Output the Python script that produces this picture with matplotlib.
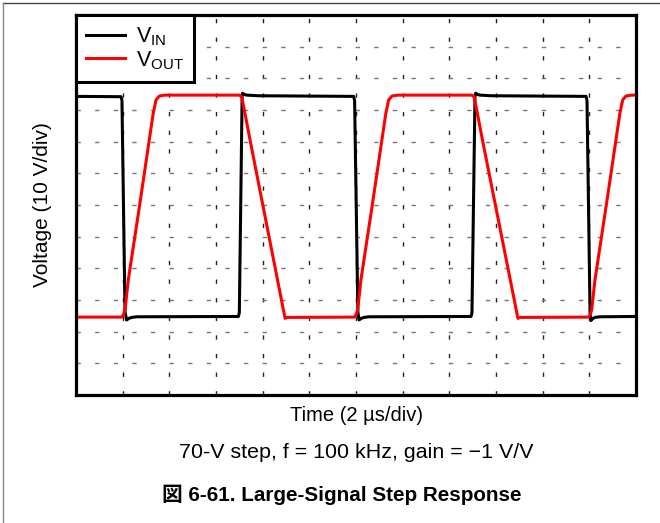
import numpy as np
import matplotlib
matplotlib.use("Agg")
import matplotlib.pyplot as plt
from matplotlib.lines import Line2D

plt.rcParams['font.family'] = ['Liberation Sans', 'Noto Sans CJK JP', 'DejaVu Sans']
plt.rcParams['mathtext.fontset'] = 'custom'
plt.rcParams['mathtext.rm'] = 'Liberation Sans'
plt.rcParams['mathtext.it'] = 'Liberation Sans:italic'
plt.rcParams['mathtext.bf'] = 'Liberation Sans:bold'

# time in us, voltage in V
t_in = [0, 1.93, 1.97, 2.10, 2.17, 2.27, 2.39, 2.60, 6.96, 7.00, 7.12, 7.14, 7.22, 7.32, 7.80,
        11.90, 11.94, 12.08, 12.13, 12.23, 12.34, 12.55, 16.93, 16.97, 17.10, 17.13, 17.21, 17.31,
        17.80, 21.86, 21.90, 22.03, 22.06, 22.16, 22.24, 22.45, 24.0]
v_in = [34.3, 34.2, 33.0, -33.8, -36.3, -35.8, -35.5, -35.3, -35.2, -34.0, 34.6, 35.3, 34.9, 34.7, 34.5,
        34.3, 33.0, -33.8, -36.3, -35.8, -35.5, -35.3, -35.2, -34.0, 34.6, 35.3, 34.9, 34.7,
        34.5, 34.3, 33.0, -33.8, -36.5, -35.8, -35.5, -35.3, -35.2]

t_out = [0, 1.96, 2.03, 2.10, 2.24, 2.74, 3.31, 3.43, 3.57, 3.81, 7.00, 7.10, 7.24, 7.46, 8.96, 9.05,
         11.93, 12.00, 12.07, 12.21, 12.71, 13.28, 13.40, 13.54, 13.78, 16.96, 17.06, 17.20, 17.42,
         18.94, 19.03, 21.96, 22.03, 22.10, 22.24, 22.74, 23.31, 23.43, 23.57, 23.81, 24.0]
v_out = [-35.4, -35.4, -34.7, -33.2, -23.7, 0.6, 29.0, 33.2, 34.4, 34.7, 34.7, 34.2, 29.0, 20.5, -35.8, -35.5,
         -35.4, -34.7, -33.2, -23.7, 0.6, 29.0, 33.2, 34.4, 34.7, 34.7, 34.2, 29.0, 20.5,
         -35.8, -35.5, -35.4, -34.7, -33.2, -23.7, 0.6, 29.0, 33.2, 34.4, 34.7, 34.7]

labels = ['V$_{\\mathrm{IN}}$', 'V$_{\\mathrm{OUT}}$']

fig = plt.figure(figsize=(6.6, 5.23), dpi=100)
ax = fig.add_axes([76/660, 1 - 395/523, 560/660, 380/523])

ax.plot(t_in, v_in, color='black', lw=2.2, label=labels[0])
ax.plot(t_out, v_out, color='#ff0000', lw=2.2, label=labels[1])

ax.set_xlim(0, 24)
ax.set_ylim(-60, 60)
ax.set_xticks(np.arange(0, 25, 2))
ax.set_yticks(np.arange(-60, 61, 10))
ax.tick_params(length=0, labelbottom=False, labelleft=False)
ax.set_axisbelow(True)
ax.grid(axis='x', color='#222222', lw=1.0, linestyle=(0, (3.1, 10.3)))
ax.grid(axis='y', color='#777777', lw=1.0, linestyle=(0, (3.1, 10.3)))
for s in ax.spines.values():
    s.set_linewidth(2.3)

ax.set_xlabel('Time (2 µs/div)', fontsize=14.5, labelpad=8)
ax.set_ylabel('Voltage (10 V/div)', fontsize=15, labelpad=17)

leg = ax.legend(loc='upper left', bbox_to_anchor=(0, 1), borderaxespad=0, fancybox=False,
                edgecolor='black', framealpha=1, fontsize=15.5, handlelength=1.8,
                handletextpad=0.5, borderpad=0.48, labelspacing=0.05)
leg.get_frame().set_linewidth(2.2)

fig.text(356/660, 1 - 453/523, '70-V step, f = 100 kHz, gain = \u22121 V/V', fontsize=15.4,
         ha='center', va='center')
fig.text(342/660, 1 - 495/523, '図 6-61. Large-Signal Step Response', fontsize=14.9,
         fontweight='bold', ha='center', va='center')

# page frame
fig.add_artist(Line2D([3/660, 1], [1 - 3/523, 1 - 3/523], color='#444444', lw=1.0))
fig.add_artist(Line2D([3/660, 3/660], [0, 1 - 3/523], color='#888888', lw=1.0))

fig.savefig('out.png', dpi=100)
